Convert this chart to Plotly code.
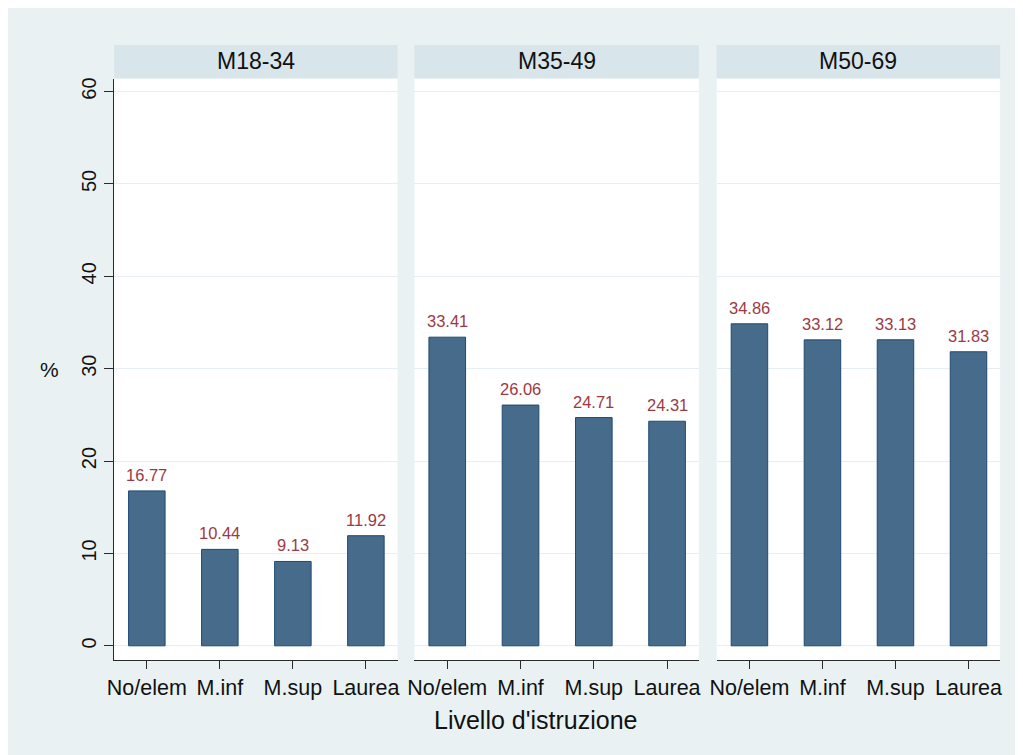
import plotly.graph_objects as go

groups = ["M18-34", "M35-49", "M50-69"]
categories = ["No/elem", "M.inf", "M.sup", "Laurea"]
vals_m18_34 = [16.77, 10.44, 9.13, 11.92]
vals_m35_49 = [33.41, 26.06, 24.71, 24.31]
vals_m50_69 = [34.86, 33.12, 33.13, 31.83]
y_ticks = [0, 10, 20, 30, 40, 50, 60]
x_title = "Livello d'istruzione"
y_title = "%"

series = [vals_m18_34, vals_m35_49, vals_m50_69]

# the page body has an 8px margin, so the paper starts at (8, 8)
OX, OY = 8, 8
W, H = 1023 - OX, 755 - OY
FONT = "Liberation Sans, Arial, sans-serif"
OUTER_BG = "#E9F1F3"
STRIP_BG = "#D8E5EA"
BAR_FILL = "#476B8B"
BAR_LINE = "#1E4A72"
LABEL_COL = "#9B3A44"
GRID_COL = "#E6EEF1"
AXIS_COL = "#2A2A2A"

# panel boundaries in screen pixels
panels_px = [(108, 394), (411, 698), (716, 1002)]
plot_top, plot_bot = 78, 660
strip_top, strip_bot = 44, 77

def px(x):
    return (x - OX) / W

def py(y):
    return 1 - (y - OY) / H

fig = go.Figure()
shapes = []
annotations = []

for i, (g, vals) in enumerate(zip(groups, series)):
    n = "" if i == 0 else str(i + 1)
    x0, x1 = panels_px[i]
    fig.add_trace(go.Bar(
        x=categories, y=vals, width=0.5,
        marker=dict(color=BAR_FILL, line=dict(color=BAR_LINE, width=1)),
        xaxis="x" + n, yaxis="y" + n, showlegend=False, hoverinfo="skip",
    ))
    for c, v in zip(categories, vals):
        annotations.append(dict(
            text=f"{v:.2f}", x=c, y=v, xref="x" + n, yref="y" + n,
            xanchor="center", yanchor="bottom", yshift=5, showarrow=False,
            font=dict(color=LABEL_COL, size=16.5, family=FONT)))
    fig.layout["xaxis" + n] = dict(
        domain=[px(x0), px(x1)], anchor="y" + n, type="category",
        range=[-0.448, 3.434], showline=True, linecolor=AXIS_COL, linewidth=1.3,
        ticks="outside", ticklen=8, tickwidth=1.3, tickcolor=AXIS_COL,
        showgrid=False, zeroline=False,
        tickfont=dict(size=21.5, family=FONT, color="#111111"),
    )
    fig.layout["yaxis" + n] = dict(
        domain=[py(plot_bot), py(plot_top)], anchor="x" + n,
        range=[-1.55, 61.37], tickvals=y_ticks,
        showgrid=True, gridcolor=GRID_COL, gridwidth=1.3, zeroline=False,
        showline=(i == 0), linecolor=AXIS_COL, linewidth=1.3,
        ticks="outside" if i == 0 else "", ticklen=9, tickwidth=1.3, tickcolor=AXIS_COL,
        showticklabels=(i == 0), tickangle=-90,
        tickfont=dict(size=20, family=FONT, color="#111111"),
    )
    shapes.append(dict(type="rect", xref="paper", yref="paper",
                       x0=px(x0), x1=px(x1), y0=py(plot_bot), y1=py(plot_top),
                       fillcolor="white", line=dict(width=0), layer="below"))
    shapes.append(dict(type="rect", xref="paper", yref="paper",
                       x0=px(x0), x1=px(x1), y0=py(strip_bot), y1=py(strip_top),
                       fillcolor=STRIP_BG, line=dict(width=0), layer="below"))
    annotations.append(dict(text=g, xref="paper", yref="paper",
                            x=px((x0 + x1) / 2), y=py((strip_top + strip_bot) / 2),
                            xanchor="center", yanchor="middle", showarrow=False,
                            font=dict(size=23, family=FONT, color="#111111")))

annotations.append(dict(text=x_title, xref="paper", yref="paper", x=px(534), y=py(720),
                        xanchor="center", yanchor="middle", showarrow=False,
                        font=dict(size=25, family=FONT, color="#111111")))
annotations.append(dict(text=y_title, xref="paper", yref="paper", x=px(42.5), y=py(369),
                        xanchor="center", yanchor="middle", showarrow=False,
                        font=dict(size=21, family=FONT, color="#111111")))

fig.update_layout(
    width=W, height=H, margin=dict(l=0, r=0, t=0, b=0, pad=0),
    paper_bgcolor=OUTER_BG, plot_bgcolor="rgba(0,0,0,0)",
    shapes=shapes, annotations=annotations,
    font=dict(family=FONT),
)

fig.write_html("out.html")
